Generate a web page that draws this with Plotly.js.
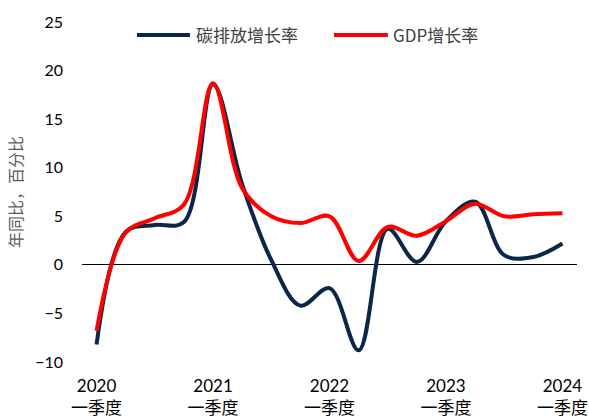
<!DOCTYPE html>
<html>
<head>
<meta charset="utf-8">
<script src="https://cdn.plot.ly/plotly-3.0.1.min.js"></script>
<style>html,body{margin:0;padding:0;background:#fff;}#chart{width:589px;height:417px;}</style>
</head>
<body>
<div id="chart"></div>
<script>
const quarters = ["2020Q1","2020Q2","2020Q3","2020Q4","2021Q1","2021Q2","2021Q3","2021Q4","2022Q1","2022Q2","2022Q3","2022Q4","2023Q1","2023Q2","2023Q3","2023Q4","2024Q1"];
const carbonGrowth = [-8.2, 3.4, 4.1, 4.4, 18.6, 8.3, 0.5, -4.2, -2.4, -8.8, 3.7, 0.3, 4.5, 6.5, 1.0, 0.8, 2.2];
const gdpGrowth = [-6.8, 3.3, 4.8, 6.2, 18.7, 7.9, 5.0, 4.3, 5.0, 0.4, 3.9, 3.0, 4.5, 6.3, 5.0, 5.2, 5.3];
const tickQuarters = ["2020Q1","2021Q1","2022Q1","2023Q1","2024Q1"];
const tickLabels = ["2020<br>一季度","2021<br>一季度","2022<br>一季度","2023<br>一季度","2024<br>一季度"];
const seriesNames = ["碳排放增长率","GDP增长率"];
const seriesColors = ["#0c2649", "#ff0000"];

const data = [
  {x: quarters, y: carbonGrowth, name: seriesNames[0], type: "scatter", mode: "lines",
   line: {color: seriesColors[0], width: 4, shape: "spline", smoothing: 1}},
  {x: quarters, y: gdpGrowth, name: seriesNames[1], type: "scatter", mode: "lines",
   line: {color: seriesColors[1], width: 4, shape: "spline", smoothing: 1}}
];

// manual legend (long line samples like the original)
const legY = 0.962;
const legendItems = [
  {x0: 0.111, x1: 0.218, tx: 0.226},
  {x0: 0.509, x1: 0.618, tx: 0.624}
];
const shapes = legendItems.map((it, i) => ({
  type: "line", xref: "paper", yref: "paper", x0: it.x0, x1: it.x1, y0: legY, y1: legY,
  line: {color: seriesColors[i], width: 4}
}));
const annotations = legendItems.map((it, i) => ({
  xref: "paper", yref: "paper", x: it.tx, y: legY, xanchor: "left", yanchor: "middle",
  text: seriesNames[i], showarrow: false,
  font: {family: "'Noto Sans CJK SC', serif", size: 17, color: "#404040"}
}));

const layout = {
  width: 589, height: 417,
  margin: {l: 82, r: 12, t: 22, b: 55},
  paper_bgcolor: "#fff", plot_bgcolor: "#fff",
  font: {family: "Lato, 'Noto Sans CJK SC', sans-serif", size: 16, color: "#000"},
  showlegend: false,
  shapes: shapes,
  annotations: annotations,
  xaxis: {type: "category", categoryorder: "array", categoryarray: quarters,
    range: [-0.5, 16.5], tickmode: "array", tickvals: tickQuarters, ticktext: tickLabels,
    showgrid: false, showline: false, zeroline: false, ticks: "", ticklabelstandoff: 12,
    tickfont: {family: "Lato, 'Noto Sans CJK SC', sans-serif", size: 17, color: "#000"}},
  yaxis: {range: [-10, 25], dtick: 5, tick0: 0, showgrid: false, showline: false,
    zeroline: true, zerolinecolor: "#000", zerolinewidth: 1, ticks: "", ticklabelstandoff: 18,
    title: {text: "年同比，百分比", font: {family: "'Noto Sans CJK SC', sans-serif", size: 16, color: "#595959"}, standoff: 8},
    tickfont: {family: "Lato, sans-serif", size: 16, color: "#000"}}
};
Plotly.newPlot("chart", data, layout, {displayModeBar: false, staticPlot: true});
</script>
</body>
</html>
